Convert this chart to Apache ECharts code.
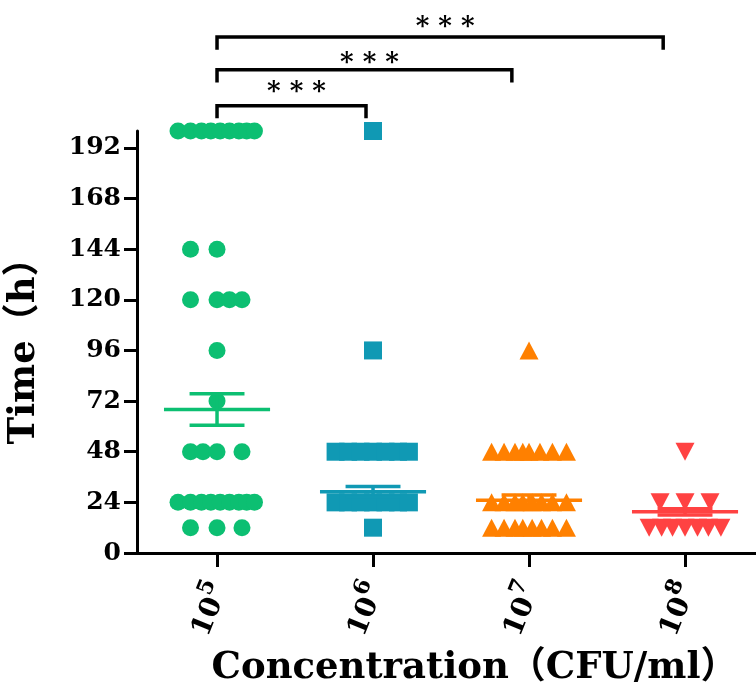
<!DOCTYPE html>
<html>
<head>
<meta charset="utf-8">
<script src="https://cdn.jsdelivr.net/npm/echarts@6/dist/echarts.min.js"></script>
<style>
  html, body { margin: 0; padding: 0; background: #fff; }
  #chart { width: 756px; height: 695px; }
</style>
</head>
<body>
<div id="chart"></div>
<script>
// group labels (10^n)
const exponents = ["5", "6", "7", "8"];
const yTicks = [0, 24, 48, 72, 96, 120, 144, 168, 192];

// raw points: value (h) and horizontal scatter offset inside the group
const g5Values = [200, 200, 200, 200, 200, 200, 200, 200, 200,
  144, 144, 120, 120, 120, 120, 96, 72, 48, 48, 48, 48,
  24, 24, 24, 24, 24, 24, 24, 24, 24, 12, 12, 12];
const g5Offsets = [-0.25, -0.17, -0.1, -0.04, 0.02, 0.08, 0.14, 0.19, 0.24,
  -0.17, 0, -0.17, 0, 0.08, 0.16, 0, 0, -0.17, -0.09, 0, 0.16,
  -0.25, -0.17, -0.1, -0.04, 0.02, 0.08, 0.14, 0.19, 0.24, -0.17, 0, 0.16];

const g6Values = [200, 96, 48, 48, 48, 48, 48, 48, 48,
  24, 24, 24, 24, 24, 24, 24, 12];
const g6Offsets = [0, 0, -0.24, -0.16, -0.08, 0, 0.08, 0.16, 0.23,
  -0.24, -0.16, -0.08, 0, 0.08, 0.16, 0.23, 0];

const g7Values = [96, 48, 48, 48, 48, 48, 48, 48, 48,
  24, 24, 24, 24, 24, 24, 24, 24, 12, 12, 12, 12, 12, 12, 12, 12];
const g7Offsets = [0, -0.24, -0.16, -0.09, -0.04, 0, 0.07, 0.15, 0.24,
  -0.24, -0.16, -0.09, -0.04, 0.02, 0.08, 0.15, 0.24,
  -0.24, -0.16, -0.09, -0.04, 0.02, 0.08, 0.15, 0.24];

const g8Values = [48, 24, 24, 24, 12, 12, 12, 12, 12, 12, 12];
const g8Offsets = [0, -0.16, 0, 0.16, -0.23, -0.15, -0.08, 0, 0.08, 0.15, 0.23];

// mean and SEM
const means = [68, 29, 25, 19.5];
const sems = [7.5, 2.5, 2.5, 1.5];

// significance brackets: [from group, to group end, level, leg bottom, star level]
const brackets = [
  [0, 0.955, 212, 206, 218.5],
  [0, 1.89, 229, 223, 232],
  [0, 2.86, 244.6, 238.5, 249]
];

const colors = ["#0cbf72", "#1099b4", "#ff8000", "#ff4242"];
const serif = "DejaVu Serif";
const titleFont = "'DejaVu Serif', 'Noto Sans CJK SC'";

function pts(group, values, offsets) {
  return values.map((v, i) => [group + offsets[i], v]);
}

const chart = echarts.init(document.getElementById("chart"));

chart.setOption({
  animation: false,
  grid: { left: 137, right: 0, top: 131, bottom: 142, outerBoundsMode: "none", containLabel: false },
  xAxis: {
    type: "value",
    min: -0.513,
    max: 3.455,
    splitLine: { show: false },
    axisLine: { onZero: false, lineStyle: { color: "#000", width: 3 } },
    axisTick: { show: true, customValues: [0, 1, 2, 3], length: 14, lineStyle: { color: "#000", width: 3 } },
    axisLabel: {
      customValues: [0, 1, 2, 3],
      rotate: 68,
      margin: 30,
      formatter: (v) => "{b|10}{s|" + exponents[v] + "}",
      rich: {
        b: { fontFamily: serif, fontWeight: "bold", fontSize: 28, color: "#000", lineHeight: 37, verticalAlign: "bottom" },
        s: { fontFamily: serif, fontWeight: "bold", fontSize: 22, color: "#000", lineHeight: 22, verticalAlign: "top" }
      }
    },
    name: "Concentration（CFU/ml）",
    nameLocation: "middle",
    nameGap: 97,
    nameTextStyle: { fontFamily: titleFont, fontWeight: "bold", fontSize: 37, color: "#000", padding: [0, 0, 0, 56] }
  },
  yAxis: {
    type: "value",
    min: 0,
    max: 200,
    interval: 24,
    splitLine: { show: false },
    axisLine: { show: true, onZero: false, lineStyle: { color: "#000", width: 3 } },
    axisTick: { show: true, customValues: yTicks, length: 13, lineStyle: { color: "#000", width: 3 } },
    axisLabel: {
      customValues: yTicks,
      margin: 16,
      fontFamily: serif,
      fontWeight: "bold",
      fontSize: 25,
      color: "#000"
    },
    name: "Time（h）",
    nameLocation: "middle",
    nameGap: 94,
    nameTextStyle: { fontFamily: titleFont, fontWeight: "bold", fontSize: 37, color: "#000" }
  },
  series: [
    { type: "scatter", symbol: "circle", symbolSize: 17, itemStyle: { color: colors[0], opacity: 1 }, data: pts(0, g5Values, g5Offsets) },
    { type: "scatter", symbol: "rect", symbolSize: 18, itemStyle: { color: colors[1], opacity: 1 }, data: pts(1, g6Values, g6Offsets) },
    { type: "scatter", symbol: "triangle", symbolSize: [19, 18], itemStyle: { color: colors[2], opacity: 1 }, data: pts(2, g7Values, g7Offsets) },
    { type: "scatter", symbol: "triangle", symbolRotate: 180, symbolSize: [19, 18], itemStyle: { color: colors[3], opacity: 1 }, data: pts(3, g8Values, g8Offsets) },
    {
      // mean line + SEM whiskers
      type: "custom",
      z: 5,
      data: means.map((m, i) => [i, m, sems[i]]),
      renderItem: (params, api) => {
        const g = api.value(0), m = api.value(1), s = api.value(2);
        const c = colors[params.dataIndex];
        const a = api.coord([g - 0.34, m]), b = api.coord([g + 0.34, m]);
        const top = api.coord([g, m + s]), bot = api.coord([g, m - s]);
        const w = api.coord([g + 0.176, m])[0] - api.coord([g, m])[0];
        const style = { stroke: c, lineWidth: 3.5 };
        return {
          type: "group",
          children: [
            { type: "line", shape: { x1: a[0], y1: a[1], x2: b[0], y2: b[1] }, style },
            { type: "line", shape: { x1: top[0], y1: top[1], x2: bot[0], y2: bot[1] }, style },
            { type: "line", shape: { x1: top[0] - w, y1: top[1], x2: top[0] + w, y2: top[1] }, style },
            { type: "line", shape: { x1: bot[0] - w, y1: bot[1], x2: bot[0] + w, y2: bot[1] }, style }
          ]
        };
      }
    },
    {
      // significance brackets above the plot
      type: "custom",
      clip: false,
      data: brackets,
      renderItem: (params, api) => {
        const x1 = api.value(0), x2 = api.value(1), lvl = api.value(2), leg = api.value(3), star = api.value(4);
        const p1 = api.coord([x1, leg]), p2 = api.coord([x1, lvl]);
        const p3 = api.coord([x2, lvl]), p4 = api.coord([x2, leg]);
        const st = api.coord([(x1 + x2) / 2, star]);
        return {
          type: "group",
          children: [
            {
              type: "polyline",
              shape: { points: [p1, p2, p3, p4] },
              style: { stroke: "#000", lineWidth: 3.5, fill: null, lineJoin: "miter" }
            },
            {
              type: "text",
              x: st[0] + 5,
              y: st[1],
              style: {
                text: "* * *",
                font: "bold 26px " + serif,
                fill: "#000",
                align: "center",
                verticalAlign: "middle"
              }
            }
          ]
        };
      }
    }
  ]
});
</script>
</body>
</html>
